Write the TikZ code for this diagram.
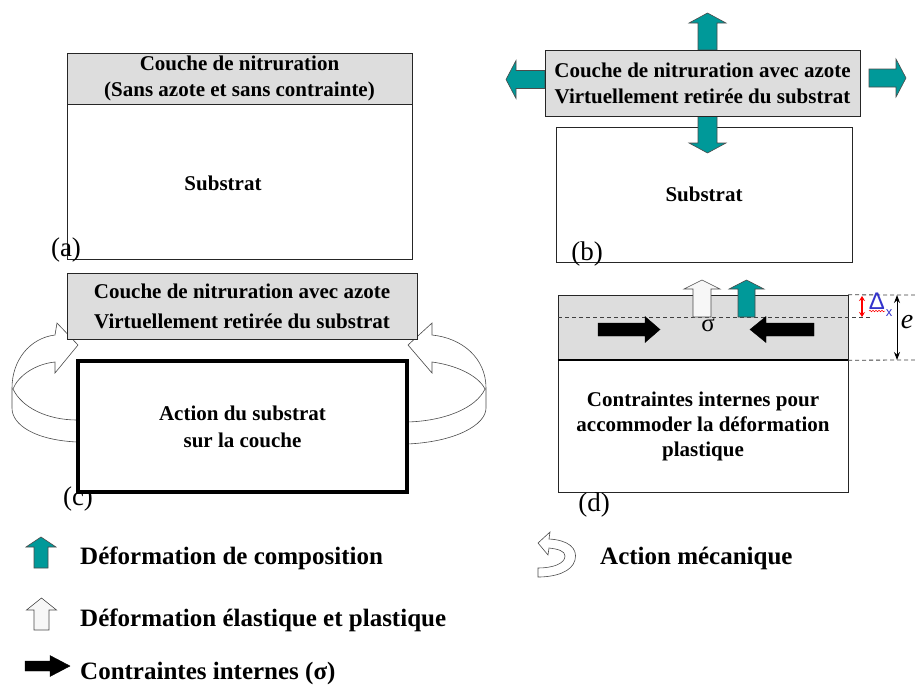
\documentclass[tikz,border=0pt]{standalone}
\usepackage{fontspec}
\setmainfont{Liberation Serif}
\newfontfamily\deltafont{Liberation Sans}
\usetikzlibrary{arrows.meta,decorations.pathmorphing}
\definecolor{sarcelle}{HTML}{009999}
\definecolor{gris}{HTML}{DDDDDD}
\definecolor{blanc}{HTML}{F7F7F7}
\definecolor{bleuD}{HTML}{3333CC}
\newcommand{\boitefont}{\fontsize{21}{26}\selectfont\bfseries}
\newcommand{\legfont}{\fontsize{25}{28}\selectfont\bfseries}
\newcommand{\etiqfont}{\fontsize{27}{30}\selectfont}

\tikzset{
  couche/.style={draw=black!85, fill=gris, inner sep=0pt, align=center, font=\boitefont},
  substrat/.style={draw=black!85, fill=white, inner sep=0pt, align=center, font=\boitefont},
  etiquette/.style={font=\etiqfont, inner sep=0pt},
  legende/.style={font=\legfont, anchor=west, inner sep=0pt},
  fleche compo/.style={draw=black!70, fill=sarcelle, line width=0.6pt},
  fleche elast/.style={draw=black!70, fill=blanc, line width=0.6pt},
  fleche contr/.style={draw=black, fill=black, line width=0.4pt},
  ruban/.style={draw=black!70, fill=white, line width=0.6pt},
  tirets/.style={draw=black!75, line width=0.8pt, dash pattern=on 4pt off 3pt},
  pics/bloc/.style args={#1/#2/#3/#4}{code={
    \path[pic actions] (0,-#2) -- (#1-#4,-#2) -- (#1-#4,-#3) -- (#1,0)
      -- (#1-#4,#3) -- (#1-#4,#2) -- (0,#2) -- cycle;
  }}
}

\begin{document}
\begin{tikzpicture}[x=1pt, y=-1pt]
  \useasboundingbox (0,0) rectangle (915,686);
  \fill[white] (0,0) rectangle (915,686);

  % (a) couche sans azote sur le substrat
  \node[substrat, minimum width=345pt, minimum height=155pt] (subA) at (239.5,181.5) {};
  \node[font=\boitefont] (txtA) at (223,183) {Substrat};
  \node[couche, minimum width=345pt, minimum height=51pt] (coucheA) at (239.5,78.5)
    {Couche de nitruration\\(Sans azote et sans contrainte)};
  \node[etiquette] (labA) at (66,250) {(a)};

  % (b) couche retiree du substrat
  \node[substrat, minimum width=296pt, minimum height=135pt] (subB) at (704,194.5) {Substrat};
  \pic[fleche compo, rotate=90] at (707.5,50) {bloc=37/9.5/18.5/10};
  \pic[fleche compo, rotate=-90] at (707.5,116) {bloc=37/9.5/18.5/10};
  \pic[fleche compo, rotate=180] at (545,79.5) {bloc=39/9/19/10};
  \pic[fleche compo] at (869,78) {bloc=37/9/19/10};
  \node[couche, minimum width=315pt, minimum height=66pt] (coucheB) at (702.5,83)
    {Couche de nitruration avec azote\\Virtuellement retirée du substrat};
  \node[etiquette] (labB) at (587,254) {(b)};

  % (c) action du substrat
  \draw[ruban] (77,442) .. controls (35,440) and (12,425) .. (12,408) -- (12,388)
    .. controls (12,360) and (30,338) .. (55,335) -- (57,323) -- (78,345) -- (55,373) -- (55,362)
    .. controls (35,364) and (18,376) .. (13,389)
    .. controls (22,408) and (48,420) .. (77,420) -- cycle;
  \draw[ruban] (407,444) .. controls (455,442) and (486,425) .. (486,408) -- (486,388)
    .. controls (486,358) and (462,338) .. (432,335) -- (432,323) -- (408,345) -- (432,373) -- (432,362)
    .. controls (455,365) and (478,375) .. (485,389)
    .. controls (476,408) and (445,421) .. (407,422) -- cycle;
  \node[etiquette] (labC) at (78,499) {(c)};
  \node[substrat, draw=black, line width=4pt, minimum width=329pt, minimum height=131pt,
    font=\fontsize{21}{27}\selectfont\bfseries] (subC) at (242.5,426.5)
    {Action du substrat\\sur la couche};
  \node[couche, minimum width=350pt, minimum height=66pt,
    font=\fontsize{21}{30}\selectfont\bfseries] (coucheC) at (242,306)
    {Couche de nitruration avec azote\\Virtuellement retirée du substrat};

  % (d) contraintes internes
  \node[substrat, minimum width=290pt, minimum height=132pt,
    font=\fontsize{21}{25}\selectfont\bfseries] (subD) at (703,426)
    {Contraintes internes pour\\accommoder la déformation\\plastique};
  \node[couche, minimum width=290pt, minimum height=65pt] (coucheD) at (703,327.5) {};
  \draw[line width=2pt] (coucheD.south west) -- (coucheD.south east);
  \draw[tirets] (coucheD.north east) -- (915,295);
  \draw[tirets] (558,317) -- (870,317);
  \draw[tirets] (coucheD.south east) -- (915,360);
  \pic[fleche elast, rotate=90] at (702,317) {bloc=37/9/18/9};
  \pic[fleche compo, rotate=90] at (746.5,317) {bloc=37/8.5/17.5/9};
  \pic[fleche contr] at (598,329.5) {bloc=62/6.5/13/15};
  \pic[fleche contr, rotate=180] at (814,329.5) {bloc=64/6.5/13/16};
  \node[font=\fontsize{25}{27}\selectfont, inner sep=0pt] (sigma) at (708,325) {σ};
  % epaisseur e et Delta x
  \coordinate (eHaut) at (897,295);
  \coordinate (eBas) at (897,360);
  \draw[line width=1pt, {Stealth[length=8pt,width=6pt]}-{Stealth[length=8pt,width=6pt]}] (eHaut) -- (eBas);
  \node[font=\fontsize{28}{30}\selectfont\itshape, inner sep=0pt] (epais) at (907,322) {e};
  \coordinate (dHaut) at (862,296);
  \coordinate (dBas) at (862,317);
  \draw[red, line width=1.3pt, {Stealth[length=5pt,width=6pt]}-{Stealth[length=5pt,width=6pt]}] (dHaut) -- (dBas);
  \node[text=bleuD, font=\deltafont\fontsize{24}{26}\selectfont, inner sep=0pt] (delta) at (877,301) {Δ};
  \node[text=bleuD, font=\deltafont\fontsize{13}{14}\selectfont, inner sep=0pt] (deltax) at (889,313) {x};
  \draw[red, line width=0.5pt, decorate, decoration={snake, amplitude=0.8pt, segment length=3pt}] (869,311) -- (885,311);
  \node[etiquette] (labD) at (594,505) {(d)};

  % legende
  \pic[fleche compo, rotate=90] at (41,568) {bloc=31/7/15/10};
  \node[legende] (legCompo) at (80,558) {Déformation de composition};
  \pic[fleche elast, rotate=90] at (41.5,630) {bloc=32/7.5/15/12};
  \node[legende] (legElast) at (80,620) {Déformation élastique et plastique};
  \pic[fleche contr] at (25,666) {bloc=45/5/10.5/20};
  \node[legende] (legContr) at (80,673) {Contraintes internes (σ)};
  \draw[ruban] (538,543) -- (550,532) -- (549,539)
    .. controls (568,540) and (578,548) .. (575,560)
    .. controls (572,572) and (555,577) .. (538,577) -- (538,568)
    .. controls (552,568) and (565,564) .. (565,556)
    .. controls (565,551) and (558,549) .. (549,548) -- (548,555) -- cycle;
  \node[legende] (legAction) at (600,558) {Action mécanique};
\end{tikzpicture}
\end{document}
